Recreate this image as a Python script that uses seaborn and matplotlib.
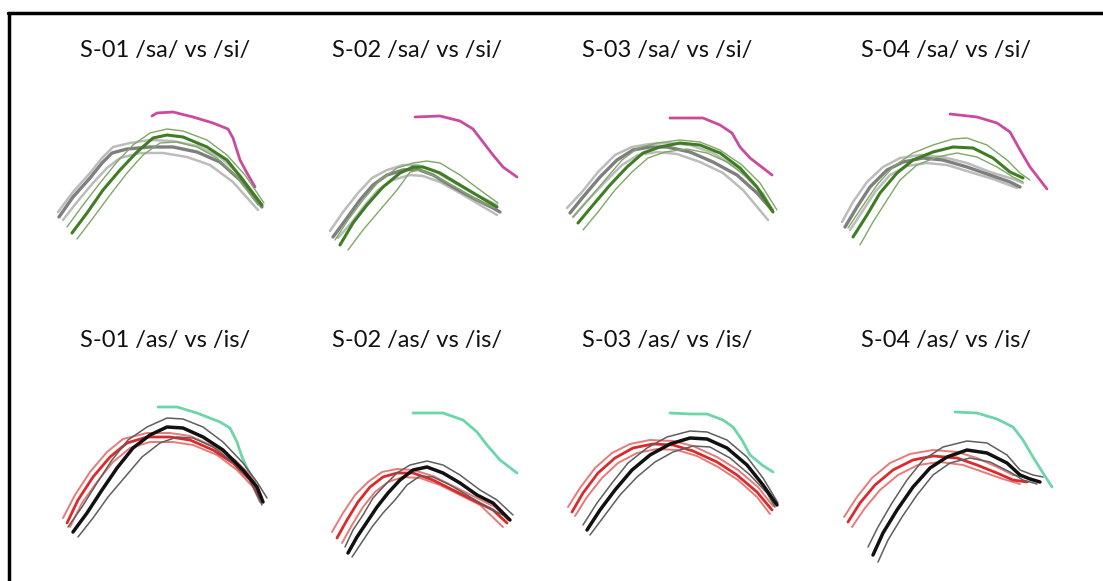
import matplotlib
matplotlib.use("Agg")
import matplotlib.pyplot as plt
import seaborn as sns
import pandas as pd

sns.set_theme(style="white")
plt.rcParams['font.family'] = ['Lato', 'DejaVu Sans']

# tongue contours per panel, (x, y) in panel units (y grows downward)
speakers = ['S-01', 'S-02', 'S-03', 'S-04']
top_titles = [f'{s} /sa/ vs /si/' for s in speakers]
bottom_titles = [f'{s} /as/ vs /is/' for s in speakers]

# ---- /sa/ vs /si/ ----
sa01_palate = [(112, 26), (117, 23), (133, 22), (153, 27), (173, 33), (188, 39), (193, 48), (200, 70), (207, 83), (215, 97)]
sa01_grey_mean = [(19, 127), (33, 107), (50, 88), (62, 73), (72, 63), (87, 59), (110, 57), (133, 57), (157, 62), (180, 72), (200, 90), (222, 117)]
sa01_grey_hi = [(18, 122), (33, 102), (50, 83), (62, 68), (73, 57), (90, 53), (110, 50), (133, 51), (157, 56), (180, 67), (200, 85), (220, 115)]
sa01_grey_lo = [(23, 130), (37, 112), (53, 93), (67, 78), (80, 68), (100, 63), (123, 63), (147, 67), (170, 75), (193, 92), (218, 120)]
sa01_green_mean = [(32, 143), (47, 123), (63, 100), (80, 80), (97, 62), (113, 48), (127, 45), (143, 47), (167, 57), (187, 70), (203, 90), (222, 115)]
sa01_green_hi = [(27, 137), (43, 115), (60, 93), (77, 72), (93, 55), (110, 43), (127, 39), (143, 41), (167, 50), (187, 65), (205, 85), (224, 113)]
sa01_green_lo = [(37, 149), (53, 128), (70, 105), (87, 83), (103, 65), (120, 53), (137, 52), (157, 57), (177, 68), (197, 87), (218, 115)]

sa02_palate = [(115, 27), (140, 26), (160, 31), (173, 39), (183, 52), (193, 65), (203, 77), (217, 87)]
sa02_grey_mean = [(33, 147), (47, 128), (60, 110), (73, 95), (87, 85), (103, 80), (117, 79), (133, 85), (153, 97), (173, 108), (193, 118), (200, 122)]
sa02_grey_hi = [(30, 141), (43, 122), (58, 103), (72, 88), (87, 80), (103, 75), (117, 75), (133, 80), (153, 92), (173, 103), (197, 115)]
sa02_grey_lo = [(38, 148), (52, 132), (65, 115), (78, 100), (93, 90), (110, 85), (123, 86), (140, 92), (160, 103), (180, 115), (197, 125)]
sa02_green_mean = [(40, 155), (53, 133), (67, 115), (83, 97), (100, 83), (113, 77), (123, 77), (140, 83), (160, 95), (180, 107), (197, 117)]
sa02_green_hi = [(35, 150), (48, 130), (63, 110), (80, 90), (97, 78), (113, 73), (127, 71), (140, 73), (160, 85), (180, 100), (198, 113)]
sa02_green_lo = [(48, 160), (63, 140), (80, 120), (97, 100), (110, 82), (120, 80), (137, 87), (157, 98), (177, 110), (195, 118)]

sa03_palate = [(120, 28), (140, 28), (153, 28), (170, 35), (182, 43), (190, 57), (200, 68), (213, 78), (222, 85)]
sa03_grey_mean = [(20, 123), (33, 107), (50, 87), (67, 70), (83, 60), (100, 57), (117, 57), (140, 62), (163, 72), (187, 85), (207, 103), (222, 120)]
sa03_grey_hi = [(17, 118), (32, 102), (48, 82), (65, 65), (82, 57), (100, 54), (117, 53), (140, 55), (163, 63), (187, 78), (207, 98), (223, 120)]
sa03_grey_lo = [(23, 127), (38, 110), (55, 92), (72, 75), (88, 65), (107, 62), (127, 64), (150, 72), (173, 83), (193, 100), (218, 130)]
sa03_green_mean = [(28, 133), (43, 115), (60, 95), (77, 77), (93, 63), (110, 57), (130, 53), (150, 55), (170, 63), (190, 78), (207, 97), (223, 122)]
sa03_green_hi = [(23, 127), (38, 110), (55, 90), (72, 70), (88, 58), (107, 53), (130, 50), (150, 52), (170, 60), (192, 75), (210, 93), (227, 120)]
sa03_green_lo = [(33, 140), (48, 122), (65, 100), (82, 82), (98, 68), (115, 62), (137, 59), (157, 63), (177, 72), (197, 87), (213, 103), (223, 120)]

sa04_palate = [(150, 24), (177, 27), (197, 33), (210, 42), (220, 60), (230, 77), (247, 99)]
sa04_grey_mean = [(45, 137), (57, 117), (70, 97), (87, 80), (103, 72), (123, 68), (143, 70), (167, 77), (190, 85), (210, 92), (220, 97)]
sa04_grey_hi = [(42, 132), (53, 112), (67, 92), (83, 77), (100, 68), (120, 65), (143, 67), (167, 73), (190, 82), (213, 89), (223, 93)]
sa04_grey_lo = [(50, 140), (62, 122), (75, 102), (90, 85), (107, 76), (127, 73), (147, 75), (170, 82), (193, 89), (217, 98)]
sa04_green_mean = [(53, 147), (67, 125), (80, 103), (97, 83), (113, 70), (133, 62), (153, 57), (173, 58), (193, 68), (210, 82), (223, 88)]
sa04_green_hi = [(48, 138), (62, 117), (77, 95), (93, 77), (113, 63), (133, 55), (153, 49), (167, 48), (187, 55), (207, 70), (220, 83), (230, 90)]
sa04_green_lo = [(60, 155), (73, 132), (87, 110), (100, 90), (117, 75), (137, 67), (157, 63), (177, 67), (197, 77), (213, 87), (223, 92)]

# ---- /as/ vs /is/ ----
as01_palate = [(118, 17), (137, 17), (157, 23), (180, 32), (190, 38), (197, 52), (202, 67), (208, 80), (215, 92)]
as01_red_mean = [(27, 133), (38, 110), (53, 87), (70, 67), (87, 53), (107, 47), (130, 47), (150, 50), (173, 60), (193, 73), (210, 90), (220, 108)]
as01_red_hi = [(23, 128), (35, 105), (50, 82), (67, 62), (83, 49), (107, 43), (130, 43), (150, 46), (173, 56), (195, 70), (212, 87), (222, 107)]
as01_red_lo = [(30, 137), (42, 113), (57, 92), (73, 72), (90, 58), (110, 52), (133, 52), (153, 55), (177, 65), (197, 80), (213, 97), (220, 112)]
as01_black_mean = [(33, 142), (47, 123), (62, 100), (77, 78), (93, 58), (110, 45), (127, 37), (143, 38), (163, 47), (183, 60), (203, 80), (217, 97), (223, 112)]
as01_black_hi = [(28, 137), (42, 117), (57, 93), (72, 70), (88, 50), (107, 37), (127, 28), (143, 29), (163, 37), (183, 52), (203, 73), (217, 92), (227, 108)]
as01_black_lo = [(38, 147), (53, 128), (68, 107), (85, 87), (102, 67), (120, 53), (137, 47), (153, 48), (173, 57), (193, 72), (210, 90), (222, 115)]

as02_palate = [(113, 23), (143, 23), (163, 30), (177, 42), (187, 55), (200, 70), (217, 83)]
as02_red_mean = [(37, 148), (47, 130), (58, 112), (70, 97), (83, 87), (97, 83), (113, 83), (133, 90), (153, 100), (173, 110), (193, 120), (207, 133)]
as02_red_hi = [(32, 142), (43, 123), (55, 105), (68, 92), (82, 82), (97, 79), (113, 80), (133, 86), (153, 96), (173, 106), (195, 117), (208, 130)]
as02_red_lo = [(42, 153), (52, 135), (63, 117), (75, 102), (88, 92), (103, 87), (120, 88), (140, 95), (160, 105), (180, 115), (203, 137)]
as02_black_mean = [(48, 163), (57, 147), (67, 132), (77, 117), (88, 103), (100, 90), (113, 80), (127, 77), (143, 83), (160, 93), (177, 105), (193, 113), (210, 130)]
as02_black_hi = [(45, 157), (53, 140), (63, 125), (73, 108), (85, 95), (97, 83), (110, 75), (127, 71), (143, 75), (160, 85), (180, 100), (197, 110), (213, 125)]
as02_black_lo = [(52, 167), (62, 152), (72, 137), (83, 123), (95, 110), (107, 95), (120, 86), (133, 87), (150, 95), (167, 105), (187, 117), (203, 125)]

as03_palate = [(120, 23), (140, 24), (157, 24), (173, 30), (183, 37), (192, 50), (200, 65), (212, 75), (223, 82)]
as03_red_mean = [(22, 122), (33, 103), (48, 83), (65, 68), (83, 58), (103, 54), (123, 55), (143, 61), (167, 72), (187, 85), (207, 102), (222, 120)]
as03_red_hi = [(18, 117), (30, 98), (45, 78), (62, 63), (80, 54), (100, 50), (123, 51), (143, 56), (167, 67), (188, 80), (208, 97), (223, 116)]
as03_red_lo = [(25, 126), (37, 107), (52, 88), (68, 73), (87, 63), (107, 59), (127, 60), (147, 66), (168, 77), (188, 90), (207, 107), (220, 124)]
as03_black_mean = [(37, 140), (50, 120), (65, 100), (82, 80), (100, 65), (120, 54), (140, 48), (157, 49), (177, 58), (197, 75), (213, 95), (227, 115)]
as03_black_hi = [(33, 135), (47, 113), (62, 93), (78, 73), (97, 58), (117, 47), (140, 41), (157, 42), (177, 50), (197, 67), (213, 88), (228, 113)]
as03_black_lo = [(40, 145), (55, 125), (70, 105), (87, 87), (105, 72), (123, 62), (143, 56), (160, 57), (180, 68), (200, 85), (217, 103), (225, 117)]

as04_palate = [(155, 22), (177, 23), (197, 29), (213, 37), (223, 50), (233, 67), (243, 83), (252, 97)]
as04_red_mean = [(48, 132), (60, 113), (75, 95), (93, 80), (113, 70), (133, 66), (157, 68), (177, 75), (197, 83), (213, 90), (227, 92)]
as04_red_hi = [(44, 127), (57, 107), (72, 88), (90, 73), (110, 64), (133, 60), (157, 62), (177, 68), (197, 77), (213, 85), (227, 87)]
as04_red_lo = [(52, 137), (65, 118), (80, 100), (98, 85), (118, 75), (140, 72), (163, 75), (183, 82), (203, 89), (220, 94)]
as04_black_mean = [(73, 165), (83, 143), (97, 120), (113, 97), (130, 78), (147, 67), (167, 60), (187, 63), (207, 73), (220, 85), (230, 89), (240, 92)]
as04_black_hi = [(68, 157), (78, 137), (92, 113), (107, 90), (123, 70), (143, 57), (167, 51), (187, 53), (207, 65), (220, 80), (233, 85), (243, 87)]
as04_black_lo = [(78, 172), (88, 150), (102, 127), (117, 105), (133, 85), (150, 73), (170, 68), (190, 72), (210, 82), (223, 90), (237, 94)]

# line styles: (colour, width)
styles = {
    'palate_top': ('#c94a9e', 2.0),
    'palate_bottom': ('#6cd6a8', 2.0),
    'grey_ci': ('#bcbcbc', 1.8),
    'grey_mean': ('#7f7f7f', 2.4),
    'green_ci': ('#7fa867', 1.0),
    'green_mean': ('#3f7d22', 2.2),
    'red_ci': ('#e77a7a', 1.4),
    'red_mean': ('#dc2a2a', 2.0),
    'black_ci': ('#5e5e5e', 1.1),
    'black_mean': ('#111111', 2.5),
}

top_panels = [
    [('palate_top', sa01_palate), ('grey_ci', sa01_grey_hi), ('grey_ci', sa01_grey_lo), ('grey_mean', sa01_grey_mean),
     ('green_ci', sa01_green_hi), ('green_ci', sa01_green_lo), ('green_mean', sa01_green_mean)],
    [('palate_top', sa02_palate), ('grey_ci', sa02_grey_hi), ('grey_ci', sa02_grey_lo), ('grey_mean', sa02_grey_mean),
     ('green_ci', sa02_green_hi), ('green_ci', sa02_green_lo), ('green_mean', sa02_green_mean)],
    [('palate_top', sa03_palate), ('grey_ci', sa03_grey_hi), ('grey_ci', sa03_grey_lo), ('grey_mean', sa03_grey_mean),
     ('green_ci', sa03_green_hi), ('green_ci', sa03_green_lo), ('green_mean', sa03_green_mean)],
    [('palate_top', sa04_palate), ('grey_ci', sa04_grey_hi), ('grey_ci', sa04_grey_lo), ('grey_mean', sa04_grey_mean),
     ('green_ci', sa04_green_hi), ('green_ci', sa04_green_lo), ('green_mean', sa04_green_mean)],
]
bottom_panels = [
    [('palate_bottom', as01_palate), ('red_ci', as01_red_hi), ('red_ci', as01_red_lo), ('red_mean', as01_red_mean),
     ('black_ci', as01_black_hi), ('black_ci', as01_black_lo), ('black_mean', as01_black_mean)],
    [('palate_bottom', as02_palate), ('red_ci', as02_red_hi), ('red_ci', as02_red_lo), ('red_mean', as02_red_mean),
     ('black_ci', as02_black_hi), ('black_ci', as02_black_lo), ('black_mean', as02_black_mean)],
    [('palate_bottom', as03_palate), ('red_ci', as03_red_hi), ('red_ci', as03_red_lo), ('red_mean', as03_red_mean),
     ('black_ci', as03_black_hi), ('black_ci', as03_black_lo), ('black_mean', as03_black_mean)],
    [('palate_bottom', as04_palate), ('red_ci', as04_red_hi), ('red_ci', as04_red_lo), ('red_mean', as04_red_mean),
     ('black_ci', as04_black_hi), ('black_ci', as04_black_lo), ('black_mean', as04_black_mean)],
]

W, H = 1103, 581
fig = plt.figure(figsize=(W / 100, H / 100), dpi=100)
fig.patch.set_facecolor('white')

col_left = [40, 300, 550, 800]
row_top = [90, 390]
title_x = [165, 417, 667, 946]
title_y = [50, 340]
panel_w, panel_h = 260, 190


def draw_panel(ax, curves):
    for key, pts in curves:
        colour, lw = styles[key]
        df = pd.DataFrame(pts, columns=['x', 'y'])
        sns.lineplot(data=df, x='x', y='y', sort=False, estimator=None, ax=ax,
                     color=colour, linewidth=lw, solid_capstyle='round', solid_joinstyle='round')
    ax.set_xlim(0, panel_w)
    ax.set_ylim(panel_h, 0)
    ax.axis('off')


for r, panels in enumerate([top_panels, bottom_panels]):
    titles = top_titles if r == 0 else bottom_titles
    for c, curves in enumerate(panels):
        ax = fig.add_axes([col_left[c] / W, 1 - (row_top[r] + panel_h) / H, panel_w / W, panel_h / H])
        ax.patch.set_alpha(0)
        draw_panel(ax, curves)
        fig.text(title_x[c] / W, 1 - title_y[r] / H, titles[c], ha='center', va='center',
                 fontsize=17, color='#111111')

# frame on left and top
fig.add_artist(plt.Line2D([8.5 / W, 8.5 / W], [0, 1 - 13 / H], color='black', lw=2.5, transform=fig.transFigure))
fig.add_artist(plt.Line2D([7.5 / W, 1], [1 - 13 / H, 1 - 13 / H], color='black', lw=2.5, transform=fig.transFigure))

fig.savefig('out.png', dpi=100)
